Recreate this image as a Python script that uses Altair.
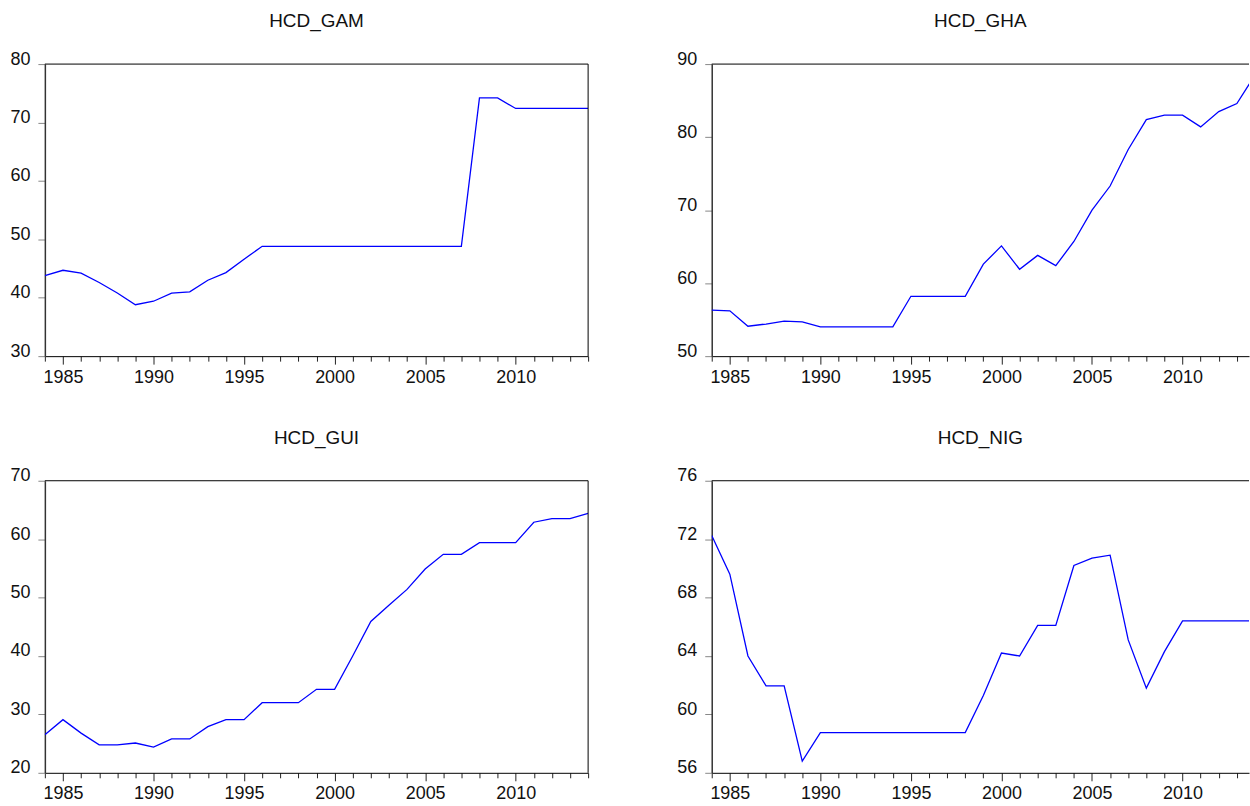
import altair as alt
import pandas as pd

# Annual series, 1984-2014
years = list(range(1984, 2015))
hcd_gam = [43.8, 44.7, 44.2, 42.6, 40.8, 38.8, 39.4, 40.8, 41.0, 43.0, 44.3, 46.6, 48.8,
           48.8, 48.8, 48.8, 48.8, 48.8, 48.8, 48.8, 48.8, 48.8, 48.8, 48.8,
           74.2, 74.2, 72.4, 72.4, 72.4, 72.4, 72.4]
hcd_gha = [56.3, 56.2, 54.1, 54.4, 54.8, 54.7, 54.0, 54.0, 54.0, 54.0, 54.0,
           58.2, 58.2, 58.2, 58.2,
           62.6, 65.1, 61.9, 63.8, 62.4, 65.7, 70.0, 73.3, 78.3, 82.4, 83.0, 83.0,
           81.4, 83.5, 84.6, 88.5]
hcd_gui = [26.5, 29.1, 26.8, 24.8, 24.8, 25.1, 24.4, 25.8, 25.8, 27.9, 29.1, 29.1,
           32.0, 32.0, 32.0, 34.3, 34.3, 40.0, 45.9, 48.7, 51.4, 54.9, 57.4, 57.4,
           59.4, 59.4, 59.4, 62.9, 63.5, 63.5, 64.4]
hcd_nig = [72.25, 69.6, 64.0, 61.95, 61.95, 56.8,
           58.75, 58.75, 58.75, 58.75, 58.75, 58.75, 58.75, 58.75, 58.75,
           61.3, 64.2, 64.0, 66.1, 66.1, 70.2, 70.7, 70.9, 65.1, 61.8, 64.3,
           66.4, 66.4, 66.4, 66.4, 66.4]

titles = ["HCD_GAM", "HCD_GHA", "HCD_GUI", "HCD_NIG"]
series = [hcd_gam, hcd_gha, hcd_gui, hcd_nig]
y_ranges = [(30, 80, 10), (50, 90, 10), (20, 70, 10), (56, 76, 4)]

FONT = "Liberation Sans"
W_LEFT = 545          # full 1984-2014 span
W_RIGHT = 539         # right-hand panels run off the page edge
H = 293
px_per_year = W_LEFT / (years[-1] - years[0])


def panel(idx):
    title = titles[idx]
    lo, hi, step = y_ranges[idx]
    right = idx % 2 == 1
    width = W_RIGHT if right else W_LEFT
    x_max = years[0] + width / px_per_year if right else years[-1]

    df = pd.DataFrame({"year": years, "value": series[idx]})

    x_axis = alt.Axis(
        values=years,
        labelExpr="datum.value % 5 == 0 ? format(datum.value, 'd') : ''",
        tickSize={"condition": {"test": "datum.value % 5 == 0", "value": 8}, "value": 5},
        tickColor="#222222",
        domainColor="#000000",
        domainWidth=1,
        labelPadding=4,
        labelFlush=False,
        labelOverlap=False,
        grid=False,
        title=None,
    )
    y_axis = alt.Axis(
        values=list(range(lo, hi + 1, step)),
        tickSize=7,
        tickColor="#888888",
        domainColor="#333333",
        domainWidth=1.5,
        labelPadding=8,
        labelBaseline="alphabetic",
        grid=False,
        title=None,
    )

    line = alt.Chart(df).mark_line(color="#0000ff", strokeWidth=1.3, clip=True).encode(
        x=alt.X("year:Q", scale=alt.Scale(domain=[years[0], x_max], nice=False, zero=False), axis=x_axis),
        y=alt.Y("value:Q", scale=alt.Scale(domain=[lo, hi], nice=False, zero=False), axis=y_axis),
    )

    one = pd.DataFrame({"k": [0]})
    top = alt.Chart(one).mark_rule(color="black", strokeWidth=1).encode(
        x=alt.value(0), x2=alt.value(width), y=alt.value(0)
    )
    layers = [line, top]
    if not right:
        side = alt.Chart(one).mark_rule(color="black", strokeWidth=1).encode(
            x=alt.value(width), y=alt.value(0), y2=alt.value(H)
        )
        layers.append(side)

    return alt.layer(*layers).properties(
        width=width,
        height=H,
        title=alt.TitleParams(title, anchor="middle", font=FONT, fontSize=19,
                              fontWeight="normal", color="#111111", offset=19),
        view=alt.ViewBackground(stroke=None),
    )


chart = alt.concat(
    panel(0), panel(1), panel(2), panel(3),
    columns=2,
    spacing={"row": 125, "column": 124},
    bounds="flush",
).properties(
    padding={"left": 9, "top": 11, "right": 0, "bottom": 0},
    background="white",
).configure_axis(
    labelFont=FONT,
    labelFontSize=18,
    labelColor="#111111",
).configure_view(stroke=None)

chart.save("out.html", embed_options={"renderer": "svg", "actions": False})
